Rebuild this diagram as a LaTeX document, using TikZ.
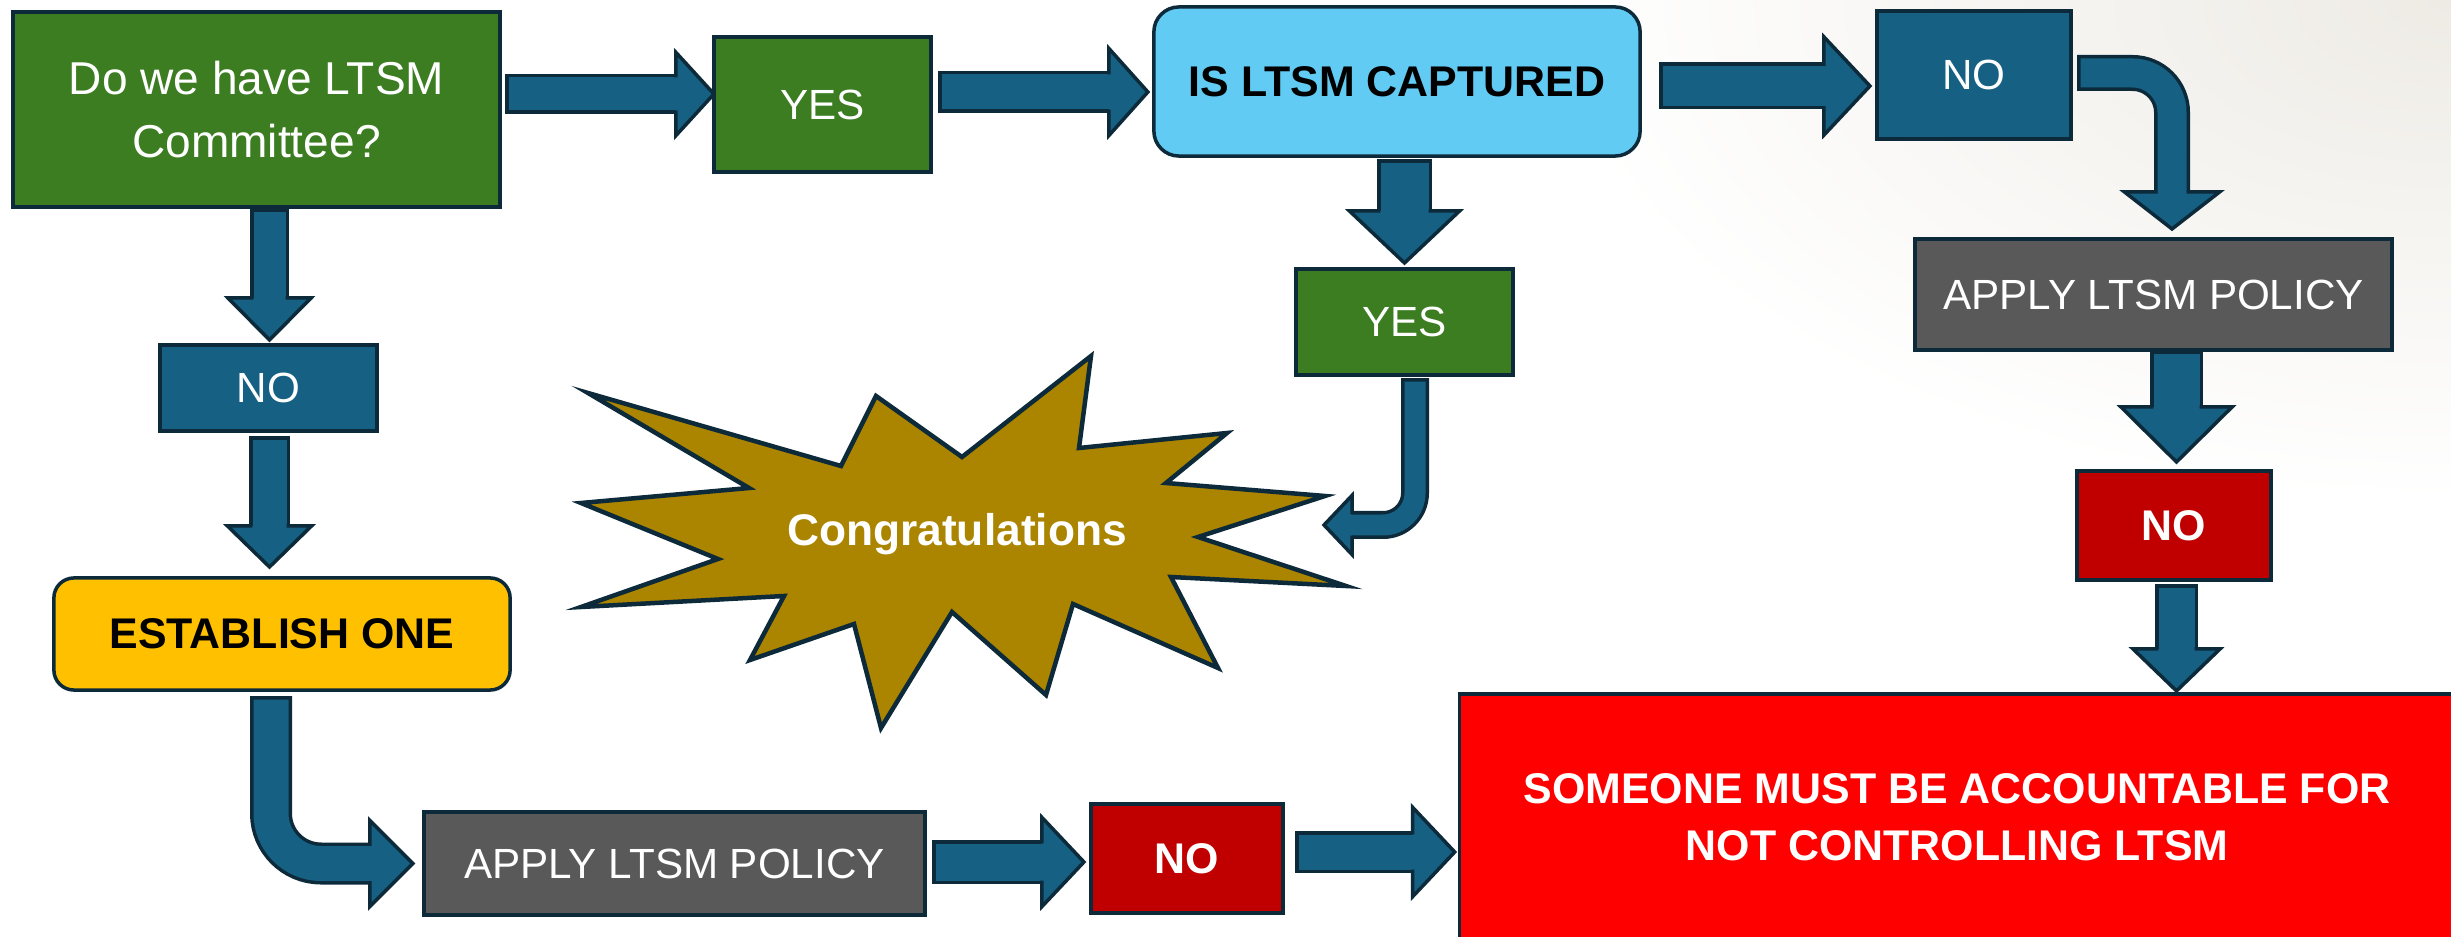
\documentclass[tikz,border=0pt]{standalone}
\usepackage{fontspec}
\setmainfont{Liberation Sans}
\usetikzlibrary{calc}
\definecolor{LTgreen}{HTML}{3C7D22}
\definecolor{LTblue}{HTML}{166083}
\definecolor{LTnavy}{HTML}{0C2A3A}
\definecolor{LTsky}{HTML}{61CBF3}
\definecolor{LTgold}{HTML}{FFC000}
\definecolor{LTgray}{HTML}{595959}
\definecolor{LTdarkred}{HTML}{C00000}
\definecolor{LTred}{HTML}{FF0000}
\definecolor{LTstar}{HTML}{AB8400}
\definecolor{LTbg}{HTML}{EEEBE5}

% block arrow head: base, tip, shaft width, head width (px)
\newcommand{\arrowhead}[4]{%
  \filldraw[headfill] ($(#1)!#3*0.005cm-0.035cm!90:(#2)$) -- ($(#1)!#4*0.005cm!90:(#2)$) -- (#2)
    -- ($(#1)!#4*0.005cm!-90:(#2)$) -- ($(#1)!#3*0.005cm-0.035cm!-90:(#2)$);}
% block arrow: start, tip, corner, path op, shaft width, head width, head length, bend radius (px)
\newcommand{\flowarrow}[8]{%
  \coordinate (hb) at ($(#2)!#7*0.01cm!(#3)$);
  \draw[shaftout=#5, rounded corners=#8*0.01cm] (#1) #4 (hb);
  \draw[shaftin=#5, rounded corners=#8*0.01cm] (#1) #4 (hb);
  \arrowhead{hb}{#2}{#5}{#6}}

\begin{document}
\begin{tikzpicture}[x=0.01cm, y=-0.01cm,
    box/.style={draw=LTnavy, line width=0.035cm, inner sep=0pt, outer sep=0pt, align=center, text=white, font=\fontsize{12}{16}\selectfont},
    boldbox/.style={box, font=\fontsize{12.2}{16.2}\selectfont\bfseries},
    shaftout/.style={draw=LTnavy, line width=#1*0.01cm},
    shaftin/.style={draw=LTblue, line width=#1*0.01cm-0.07cm, shorten <=0.035cm},
    headfill/.style={fill=LTblue, draw=LTnavy, line width=0.035cm, line join=miter}]
    \useasboundingbox (0,0) rectangle (2451,937);

    % slide background
    \begin{scope}
        \clip (0,0) rectangle (2451,937);
        \shade[inner color=LTbg, outer color=white] (2451,0) ellipse [x radius=9cm, y radius=5cm];
    \end{scope}

    % Congratulations burst
    \filldraw[fill=LTstar, draw=LTnavy, line width=0.045cm] (588,393) -- (841,466) -- (876,396) -- (962,457)
        -- (1091,356) -- (1079,448) -- (1227,433) -- (1166,483) -- (1325,496) -- (1198,537) -- (1346,586)
        -- (1171,577) -- (1218,668) -- (1073,604) -- (1046,695) -- (952,612) -- (881,728) -- (854,624)
        -- (750,660) -- (784,596) -- (581,607) -- (718,559) -- (581,503) -- (749,488) -- cycle;
    \node[font=\fontsize{12.6}{15}\selectfont\bfseries, text=white] (congrats) at (957,534) {Congratulations};

    % Top row
    \node[box, fill=LTgreen, minimum width=4.87cm, minimum height=1.95cm, font=\fontsize{13.1}{17.9}\selectfont] (A) at (256.5,109.5) {Do we have LTSM\\Committee?};
    \node[box, fill=LTgreen, minimum width=2.17cm, minimum height=1.35cm] (YES1) at (822.5,104.5) {YES};
    \node[boldbox, fill=LTsky, text=black, rounded corners=0.25cm, minimum width=4.86cm, minimum height=1.49cm] (B) at (1397,81.5) {IS LTSM CAPTURED};
    \node[box, fill=LTblue, minimum width=1.94cm, minimum height=1.28cm] (NO1) at (1974,75) {NO};
    \node[box, fill=LTgreen, minimum width=2.17cm, minimum height=1.06cm] (YES2) at (1404.5,322) {YES};

    % Right column
    \node[box, fill=LTgray, minimum width=4.77cm, minimum height=1.11cm] (APPLYr) at (2153.5,294.5) {APPLY LTSM POLICY};
    \node[boldbox, fill=LTdarkred, minimum width=1.94cm, minimum height=1.09cm] (NOr) at (2174,525.5) {NO};
    \node[boldbox, fill=LTred, minimum width=9.94cm, minimum height=2.46cm] (BIG) at (1957,817) {SOMEONE MUST BE ACCOUNTABLE FOR\\NOT CONTROLLING LTSM};

    % Left column and bottom row
    \node[box, fill=LTblue, minimum width=2.17cm, minimum height=0.86cm] (NOl) at (268.5,388) {NO};
    \node[boldbox, fill=LTgold, text=black, rounded corners=0.2cm, minimum width=4.56cm, minimum height=1.12cm] (EST) at (282,634) {ESTABLISH ONE};
    \node[box, fill=LTgray, minimum width=5.01cm, minimum height=1.03cm] (APPLYb) at (674.5,863.5) {APPLY LTSM POLICY};
    \node[boldbox, fill=LTdarkred, minimum width=1.92cm, minimum height=1.09cm] (NOb) at (1187,858.5) {NO};

    % Arrows, top row
    \coordinate (s1) at ($(A.east)+(5,-15.5)$);
    \coordinate (t1) at (YES1.west |- s1);
    \flowarrow{s1}{t1}{s1}{--}{40}{83}{38}{0}
    \coordinate (s2) at ($(YES1.east)+(7,-12.5)$);
    \coordinate (t2) at ($(B.west |- s2)+(-6,0)$);
    \flowarrow{s2}{t2}{s2}{--}{42}{87}{39}{0}
    \coordinate (s3) at ($(B.east)+(19,4.5)$);
    \coordinate (t3) at ($(NO1.west |- s3)+(-7,0)$);
    \flowarrow{s3}{t3}{s3}{--}{47}{98}{46}{0}
    \coordinate (s4) at ($(NO1.east)+(6,-2)$);
    \coordinate (t4) at ($(APPLYr.north)+(18.5,-10)$);
    \flowarrow{s4}{t4}{s4 -| t4}{-|}{36}{95}{37}{39.5}

    % Arrows, middle
    \coordinate (s5) at ($(B.south)+(7.5,3)$);
    \coordinate (t5) at ($(s5 |- YES2.north)+(0,-6)$);
    \flowarrow{s5}{t5}{s5}{--}{55}{110}{52}{0}
    \coordinate (s6) at ($(YES2.south)+(10.5,3)$);
    \coordinate (t6) at ($(congrats)+(367,-9)$);
    \flowarrow{s6}{t6}{s6 |- t6}{|-}{28}{59}{28}{32}

    % Arrows, right column
    \coordinate (s7) at ($(APPLYr.south)+(23,0)$);
    \coordinate (t7) at ($(s7 |- NOr.north)+(0,-9)$);
    \flowarrow{s7}{t7}{s7}{--}{53}{111}{55}{0}
    \coordinate (s8) at ($(NOr.south)+(2.5,4)$);
    \coordinate (t8) at ($(s8 |- BIG.north)+(0,-3)$);
    \flowarrow{s8}{t8}{s8}{--}{43}{87}{42}{0}

    % Arrows, left column
    \coordinate (s9) at ($(A.south)+(13,1)$);
    \coordinate (t9) at ($(s9 |- NOl.north)+(0,-5)$);
    \flowarrow{s9}{t9}{s9}{--}{39}{83}{42}{0}
    \coordinate (s10) at ($(NOl.south)+(1,5)$);
    \coordinate (t10) at ($(s10 |- EST.north)+(0,-11)$);
    \flowarrow{s10}{t10}{s10}{--}{41}{84}{41}{0}
    \coordinate (s11) at ($(EST.south)+(-11,6)$);
    \coordinate (t11) at ($(APPLYb.west)+(-11,0)$);
    \flowarrow{s11}{t11}{s11 |- t11}{|-}{42}{86}{43}{50}

    % Arrows, bottom row
    \coordinate (s12) at ($(APPLYb.east)+(7,-1.5)$);
    \coordinate (t12) at ($(NOb.west |- s12)+(-7,0)$);
    \flowarrow{s12}{t12}{s12}{--}{44}{89}{42}{0}
    \coordinate (s13) at ($(NOb.east)+(12,-6.5)$);
    \coordinate (t13) at ($(BIG.west |- s13)+(-5,0)$);
    \flowarrow{s13}{t13}{s13}{--}{42}{89}{42}{0}
\end{tikzpicture}
\end{document}
